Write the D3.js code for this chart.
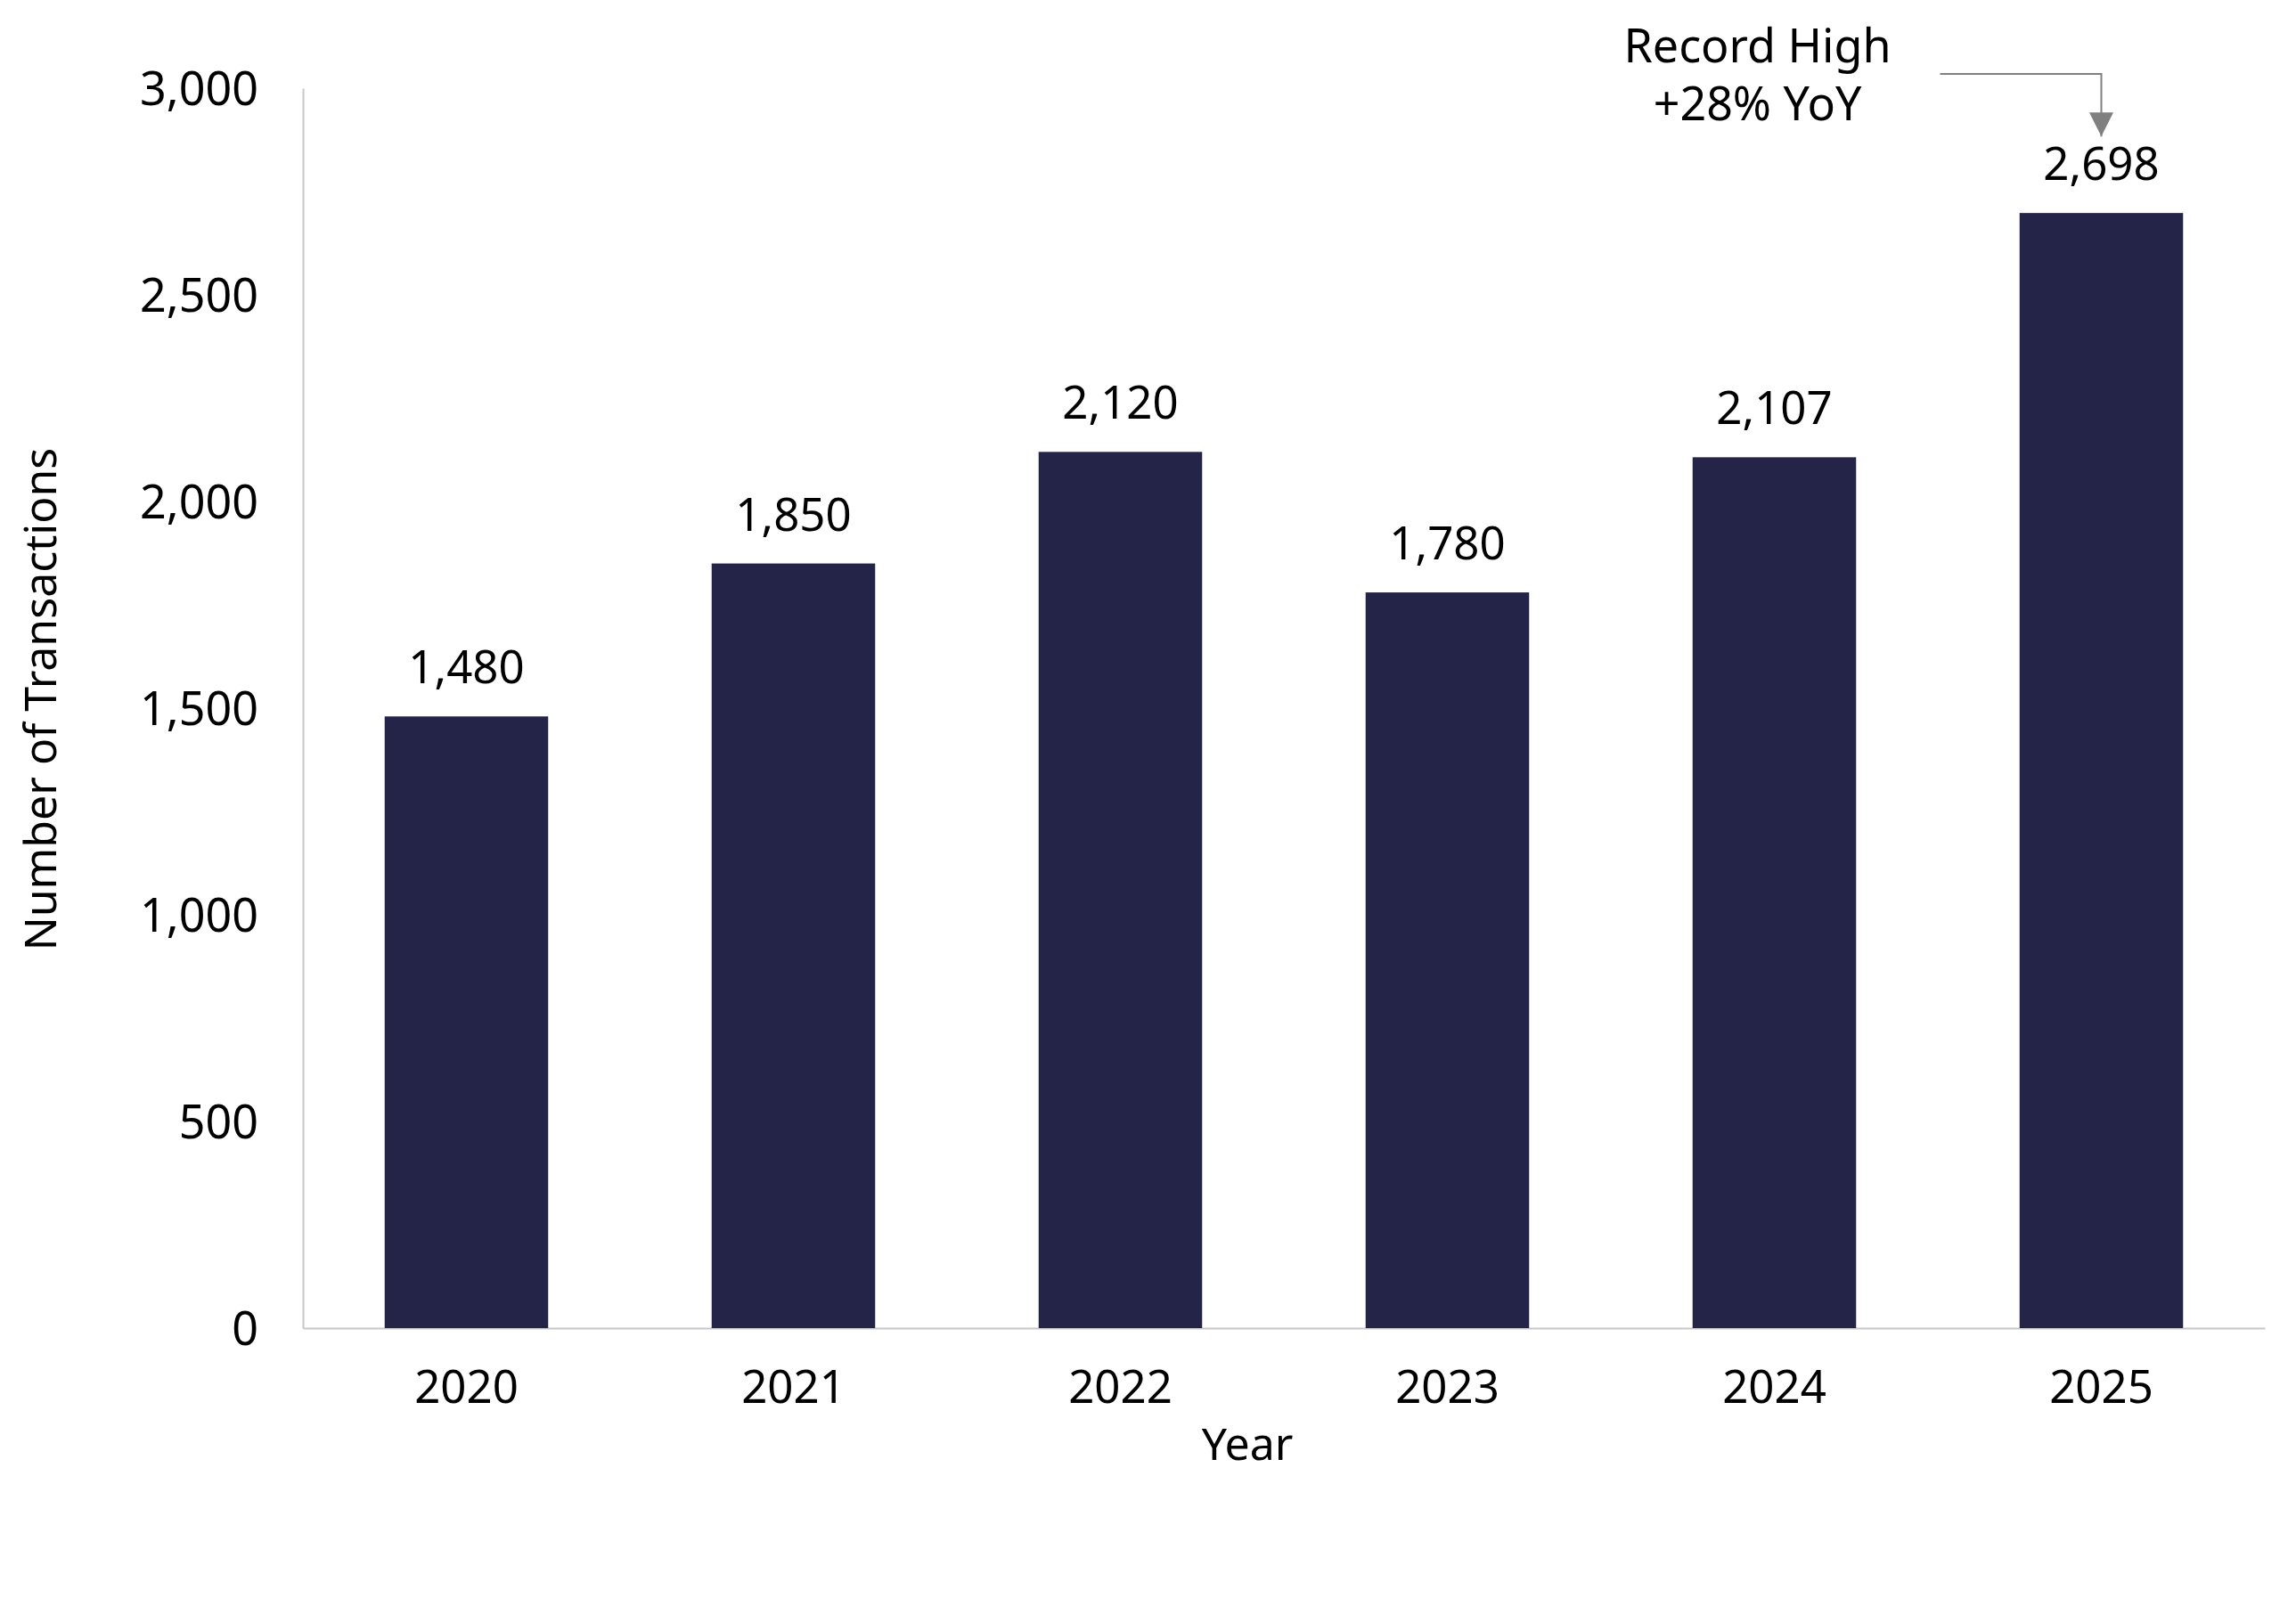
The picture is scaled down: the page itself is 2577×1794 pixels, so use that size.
<!DOCTYPE html>
<html>
<head>
<meta charset="utf-8">
<script src="https://cdn.jsdelivr.net/npm/d3@7"></script>
<style>
  body { margin: 0; background: #fff; }
  svg text { font-family: "Noto Sans", "Open Sans", sans-serif; fill: #000; }
</style>
</head>
<body>
<svg id="chart"></svg>
<script>
const years = ['2020', '2021', '2022', '2023', '2024', '2025']
const transactions = [1480, 1850, 2120, 1780, 2107, 2698]
const yTicks = [0, 500, 1000, 1500, 2000, 2500, 3000]
const noteLines = ['Record High', '+28% YoY']

const width = 2577
const height = 1794
const margin = { top: 99, right: 35, bottom: 303, left: 340 }
const innerW = width - margin.left - margin.right
const innerH = height - margin.top - margin.bottom

const svg = d3.select('#chart')
  .attr('width', width)
  .attr('height', height)

const g = svg.append('g')
  .attr('transform', `translate(${margin.left}, ${margin.top})`)

const x = d3.scaleBand()
  .domain(years)
  .range([0, innerW])
  .paddingInner(0.5)
  .paddingOuter(0.25)

const y = d3.scaleLinear()
  .domain([0, 3000])
  .range([innerH, 0])

const fmt = d3.format(',')

// y axis
const yAxis = g.append('g')
  .call(d3.axisLeft(y).tickValues(yTicks).tickSize(0).tickPadding(50).tickFormat(fmt))
yAxis.select('.domain').attr('stroke', '#c8c8c8').attr('stroke-width', 2)
yAxis.selectAll('text').style('font-size', '52px').attr('dy', '0.36em')

// x axis
const xAxis = g.append('g')
  .attr('transform', `translate(0, ${innerH})`)
  .call(d3.axisBottom(x).tickSize(0).tickPadding(48))
xAxis.select('.domain').attr('stroke', '#c8c8c8').attr('stroke-width', 2)
xAxis.selectAll('text').style('font-size', '51px')

// bars
g.selectAll('rect.bar')
  .data(transactions)
  .join('rect')
  .attr('class', 'bar')
  .attr('x', (d, i) => x(years[i]))
  .attr('y', d => y(d))
  .attr('width', x.bandwidth())
  .attr('height', d => innerH - y(d))
  .attr('fill', '#232447')

// value labels
g.selectAll('text.val')
  .data(transactions)
  .join('text')
  .attr('class', 'val')
  .attr('x', (d, i) => x(years[i]) + x.bandwidth() / 2)
  .attr('y', d => y(d) - 37)
  .attr('text-anchor', 'middle')
  .style('font-size', '51px')
  .text(fmt)

// axis titles
g.append('text')
  .attr('x', 1400 - margin.left)
  .attr('y', innerH + 148)
  .attr('text-anchor', 'middle')
  .style('font-size', '50px')
  .text('Year')

g.append('text')
  .attr('transform', `translate(${-277}, ${innerH / 2 - 10}) rotate(-90)`)
  .attr('text-anchor', 'middle')
  .style('font-size', '50px')
  .text('Number of Transactions')

// annotation for the record year
const last = years.length - 1
const cx = x(years[last]) + x.bandwidth() / 2
const noteX = cx - 386
const lineY = -16

svg.append('defs').append('marker')
  .attr('id', 'arrow')
  .attr('viewBox', '0 0 10 10')
  .attr('refX', 10)
  .attr('refY', 5)
  .attr('markerWidth', 27)
  .attr('markerHeight', 27)
  .attr('markerUnits', 'userSpaceOnUse')
  .attr('orient', 'auto')
  .append('path')
  .attr('d', 'M0,0L10,5L0,10Z')
  .attr('fill', '#808080')

g.append('path')
  .attr('d', d3.line()([[cx - 181, lineY], [cx, lineY], [cx, y(transactions[last]) - 86]]))
  .attr('fill', 'none')
  .attr('stroke', '#808080')
  .attr('stroke-width', 2)
  .attr('marker-end', 'url(#arrow)')

g.selectAll('text.note')
  .data(noteLines)
  .join('text')
  .attr('class', 'note')
  .attr('x', noteX)
  .attr('y', (d, i) => -29 + i * 65)
  .attr('text-anchor', 'middle')
  .style('font-size', '52px')
  .text(d => d)
</script>
</body>
</html>
